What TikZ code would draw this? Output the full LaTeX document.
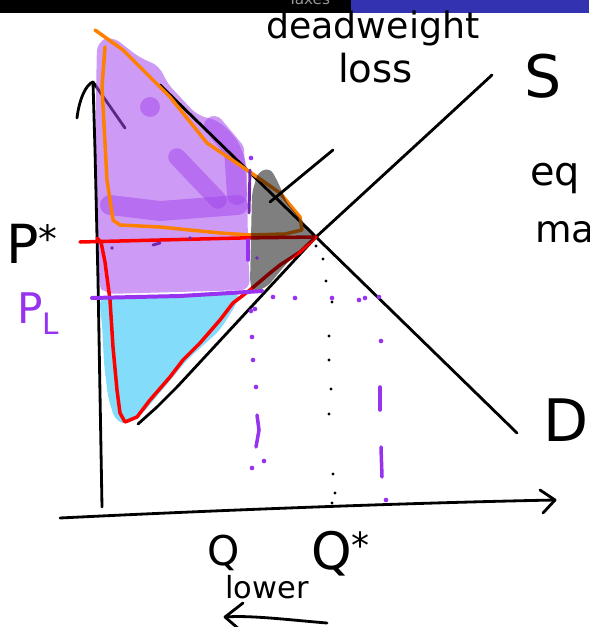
\documentclass[tikz,border=0pt]{standalone}
\usepackage{fontspec}
\setmainfont{DejaVu Sans}
\usepackage{xcolor}
\definecolor{barblue}{RGB}{51,51,178}
\definecolor{bargray}{RGB}{150,150,150}
\definecolor{lilacink}{RGB}{164,73,236}
\definecolor{cyanink}{RGB}{27,191,245}
\definecolor{plpurple}{RGB}{150,50,240}
\definecolor{darkpurple}{RGB}{115,40,175}
\definecolor{orangeink}{RGB}{255,128,0}
\definecolor{redink}{RGB}{255,0,0}
\usetikzlibrary{arrows.meta, calc}

\tikzset{
  ink/.style={line width=2.4pt, line cap=round, line join=round, black},
  hand/.style={font=\fontsize{#1}{#1}\selectfont, inner sep=0pt, anchor=base west},
  marker/.style={line width=3pt, line cap=round, line join=round},
  smear/.style={draw=lilacink, draw opacity=0.55, line width=#1, line cap=round, line join=round},
  dashpen/.style={line width=3pt, line cap=round, plpurple}
}

\begin{document}
\begin{tikzpicture}[x=0.03cm, y=-0.03cm]
  \useasboundingbox (0,0) rectangle (589,627);

  % --- Top bar ---
  \fill[black] (0,0) rectangle (351,13);
  \fill[barblue] (351,0) rectangle (589,13);
  \node[font=\fontsize{13}{13}\selectfont, bargray, anchor=base] (taxes) at (309,5) {Taxes};

  % Key points
  \coordinate (eq) at (316,237);
  \coordinate (ytop) at (93,82);
  \coordinate (xend) at (555,500);

  % --- Shaded areas ---
  % y axis tip, under the lilac
  \draw[ink] (ytop) -- (125,128);
  % Surplus (lilac)
  \fill[lilacink, fill opacity=0.55, rounded corners=8pt]
    (97,42) -- (112,36) -- (140,58) -- (160,66) -- (166,82) -- (198,116) -- (218,120)
    -- (238,140) -- (247,165) -- (248,250) -- (250,290) -- (105,294) -- (98,285)
    -- (95,150) -- cycle;
  \draw[smear=17pt] (110,205) -- (160,211) -- (238,205);
  \draw[smear=17pt] (214,126) -- (234,150) -- (237,195);
  \draw[smear=15pt] (177,157) -- (218,200);
  \fill[lilacink, fill opacity=0.55] (150,107) circle (8.5pt);
  % Lower area (cyan)
  \fill[cyanink, fill opacity=0.55, rounded corners=6pt]
    (100,297) -- (240,293) -- (237,303) -- (220,330) -- (187,360) -- (143,413)
    -- (127,425) -- (115,420) -- (108,397) -- (104,363) -- (102,323) -- (100,310) -- cycle;

  % --- Axes ---
  \draw[ink] (ytop) -- (95,150) -- (98,280) -- (102,507);
  \draw[ink] (77,118) .. controls (79,100) and (86,84) .. (ytop);
  \draw[ink] (60,518) .. controls (200,511) and (400,503) .. (xend);
  \draw[ink] (540,490) -- (xend) -- (543,513);

  % --- Supply and demand ---
  \draw[ink] (160,85) -- (eq) -- (517,433);
  \draw[ink] (138,424) -- (157,407) -- (177,387) -- (eq) -- (440,123) -- (492,75);

  % --- Outlines ---
  \draw[marker, orangeink] (95,30) -- (123,50) -- (170,97) -- (207,143) -- (247,170)
    -- (280,193) -- (300,217) -- (302,230) -- (285,234) -- (250,235) -- (220,233)
    -- (160,227) -- (120,225) -- (113,220) -- (107,180) -- (102,87) -- (105,47);
  \draw[marker, redink] (80,242) -- (240,238) -- (eq) -- (300,252) -- (280,265)
    -- (270,273) -- (250,290) -- (233,303) -- (220,320) -- (200,343) -- (183,360)
    -- (170,377) -- (150,400) -- (137,417) -- (125,422) -- (120,413) -- (117,390)
    -- (113,347) -- (110,300) -- (105,262) -- (101,242) -- (97,238);

  % Deadweight loss (gray)
  \fill[black, fill opacity=0.5, rounded corners=5pt]
    (252,193) -- (258,172) -- (270,168) -- (277,180) -- (287,203) -- (303,222)
    -- (318,237) -- (303,247) -- (287,263) -- (267,287) -- (253,292) -- (250,283) -- cycle;

  % --- Lower price line and guides ---
  \draw[marker, plpurple, line width=3.4pt] (92,298) -- (180,296) -- (247,292) -- (262,291);
  \draw[line width=2.5pt, line cap=round, darkpurple] (250,170) -- (249,213);
  \draw[dashpen] (248,240) -- (248,260);
  \draw[dashpen] (257,415) -- (259,430) -- (256,447);
  \draw[dashpen] (380,387) -- (380,410);
  \draw[dashpen] (381,447) -- (382,477);
  \foreach \p in {(251,158),(273,297),(295,298),(332,298),(359,300),(365,298),(379,297),
                  (255,309),(251,311),(252,337),(253,360),(256,387),(264,461),(252,468),
                  (381,341),(386,500)}
    \fill[plpurple] \p circle (2pt);
  \foreach \p in {(112,248),(190,238),(257,258)}
    \fill[darkpurple] \p circle (1.5pt);
  \draw[line width=2.5pt, line cap=round, darkpurple] (153,245) -- (160,243);
  \foreach \p in {(316,246),(323,259),(326,281),(332,302),(329,336),(329,360),
                  (331,389),(329,414),(333,474),(335,493),(332,503)}
    \fill[black] \p circle (1.3pt);

  % --- Pointer to the loss ---
  \coordinate (dwlpoint) at (270,202);
  \coordinate (dwltail) at (333,150);
  \draw[ink] (dwlpoint) -- (dwltail);

  % --- Labels ---
  \node[hand=31] (dwl) at (266,39) {deadweight};
  \node[hand=33] (loss) at (338,83) {loss};
  \node[hand=50] (slabel) at (524,98) {S};
  \node[hand=50] (dlabel) at (543,441) {D};
  \node[hand=34] (eqtext) at (530,186) {eq};
  \node[hand=32] (matext) at (535,242) {ma};
  \node[hand=46] (pstar) at (6,263) {P\textsuperscript{*}};
  \node[hand=36, plpurple] (plow) at (17,323) {P\textsubscript{L}};
  \node[hand=35] (qlow) at (207,565) {Q};
  \node[hand=44] (qstar) at (311,569) {Q\textsuperscript{*}};
  \node[hand=26] (lower) at (225,598) {lower};

  % --- Arrow: quantity falls ---
  \coordinate (lowtail) at (327,623);
  \coordinate (lowtip) at (225,617);
  \draw[ink] (lowtail) .. controls (290,620) and (250,615) .. (lowtip) -- (243,603);
  \draw[ink] (lowtip) -- (240,630);
\end{tikzpicture}
\end{document}
